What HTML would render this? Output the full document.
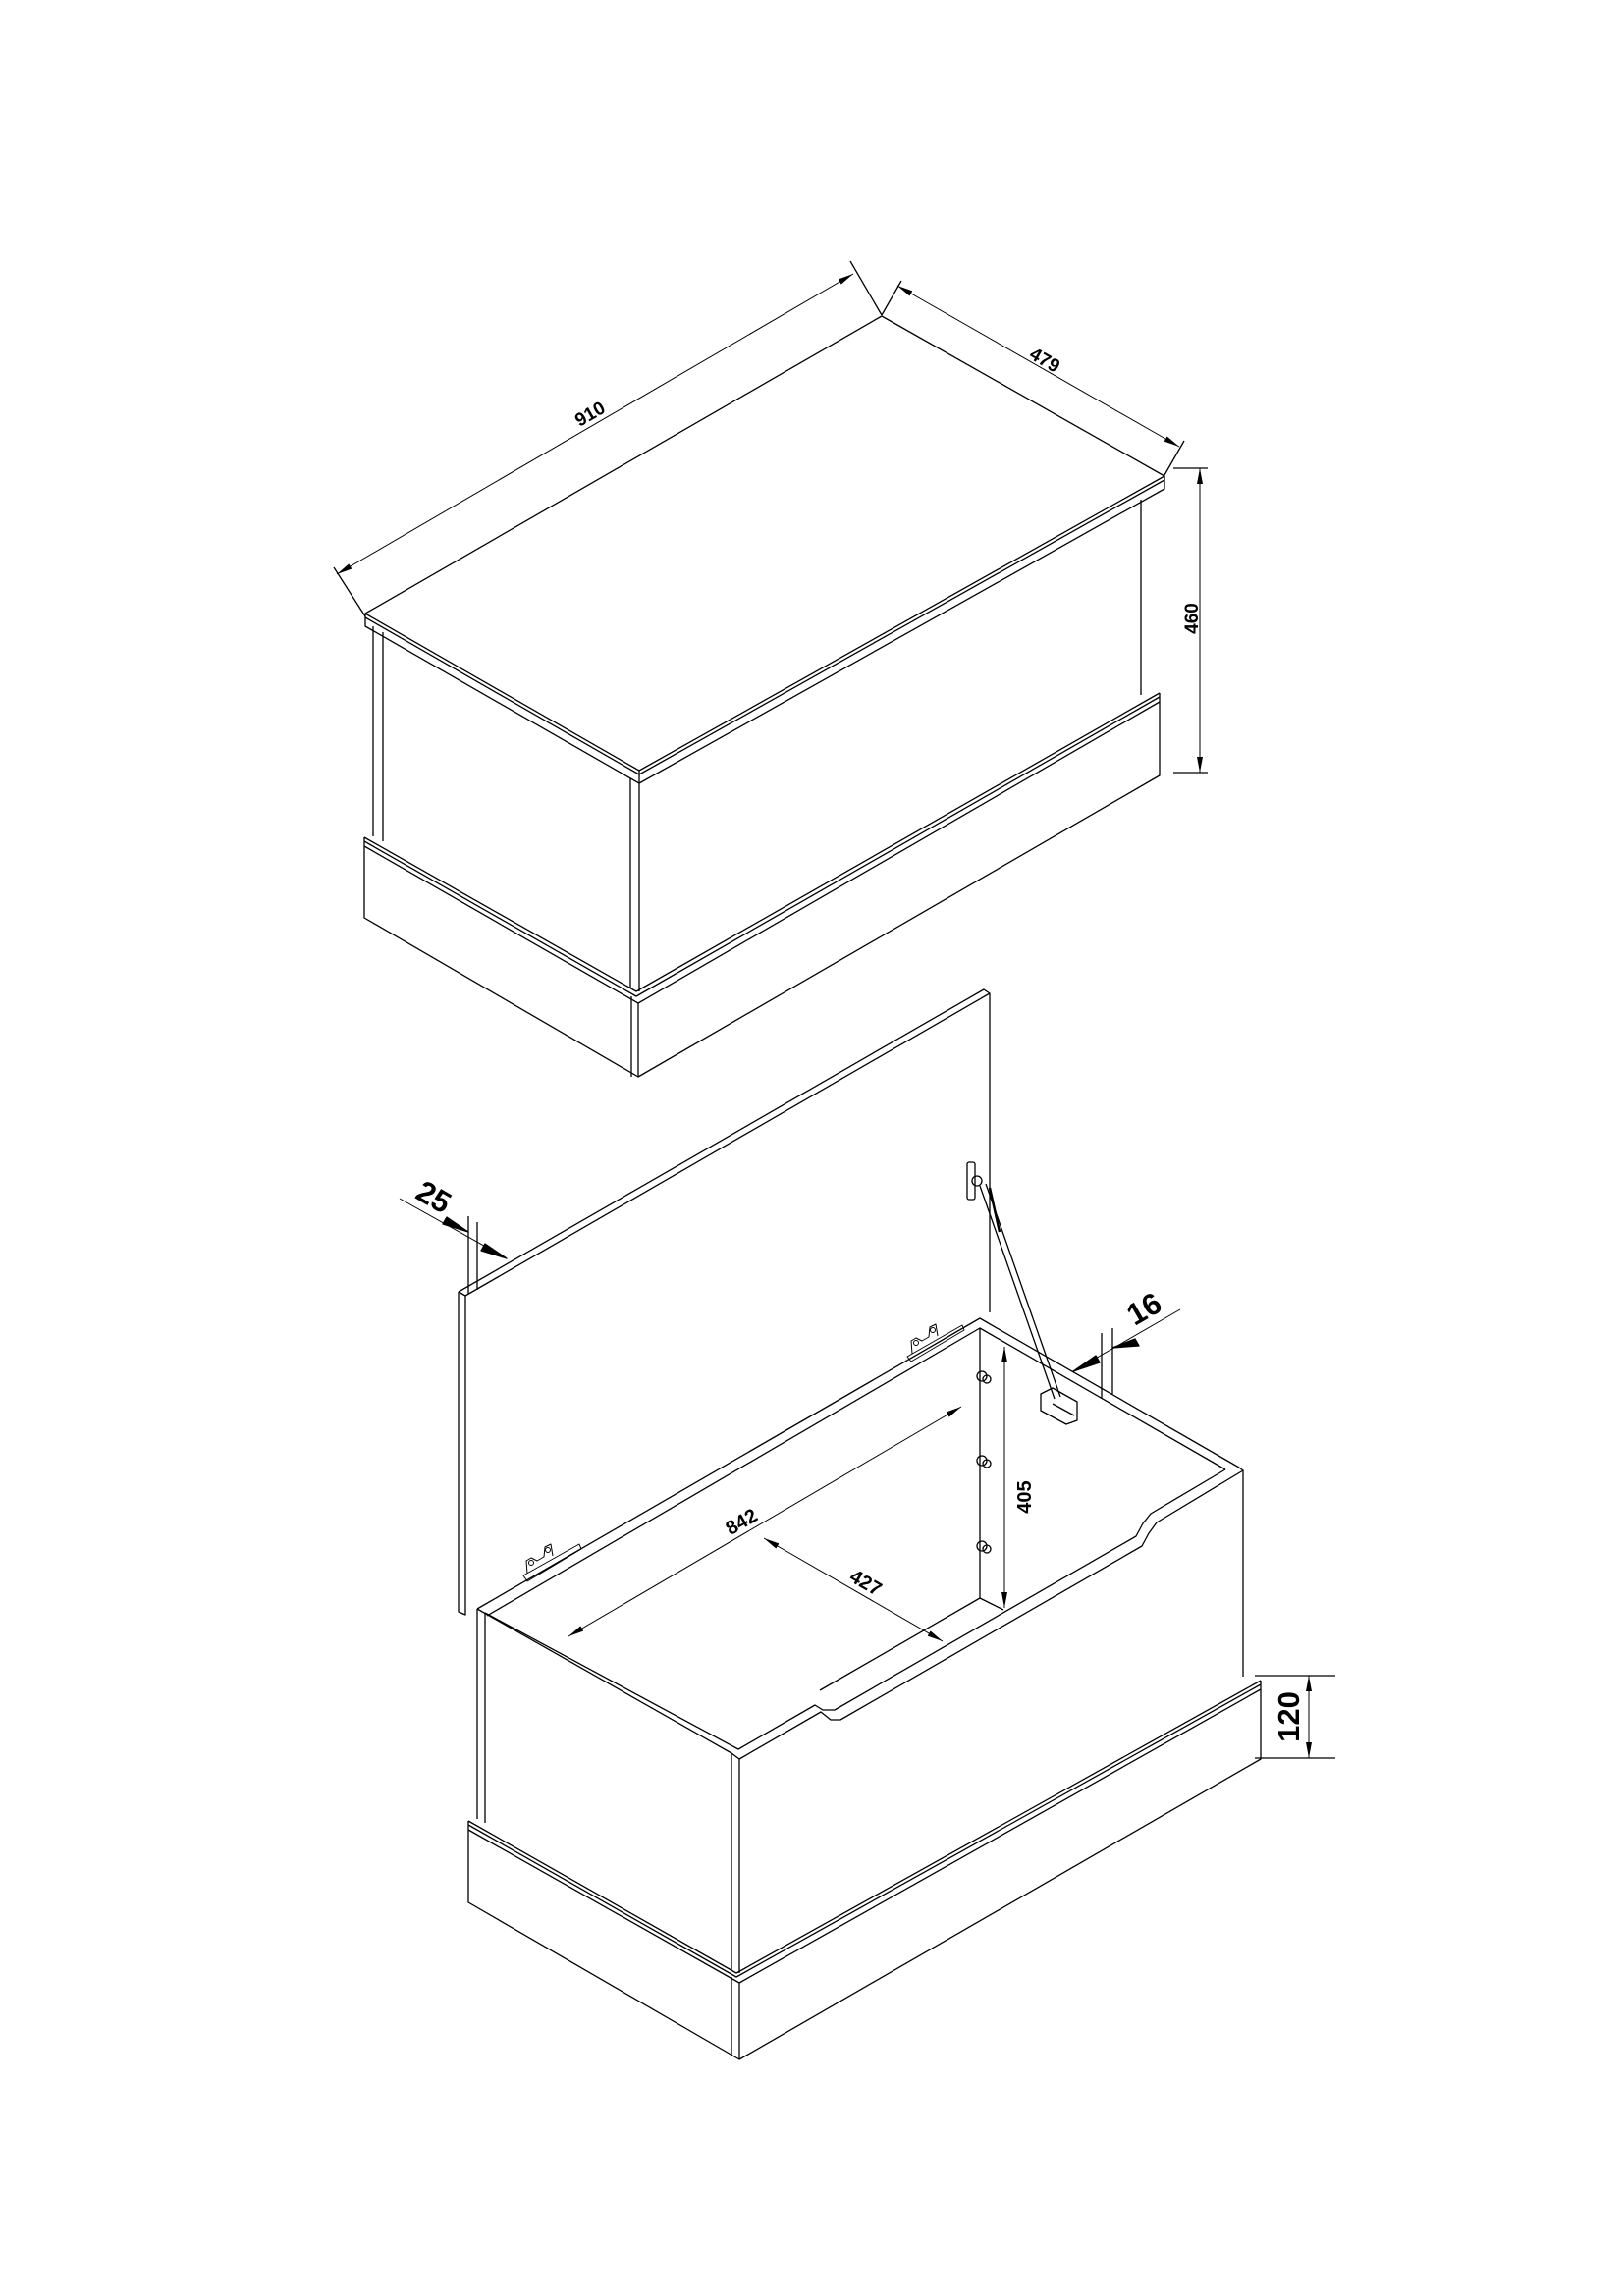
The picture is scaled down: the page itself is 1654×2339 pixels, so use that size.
<!DOCTYPE html>
<html><head><meta charset="utf-8"><style>
html,body{margin:0;padding:0;background:#fff}
svg{display:block}
text{font-family:"Liberation Sans",Arial,sans-serif;font-weight:bold;fill:#000}
</style></head><body>
<svg width="1654" height="2339" viewBox="0 0 1654 2339" xmlns="http://www.w3.org/2000/svg">
<defs>
<marker id="a" viewBox="0 0 16 6" refX="16" refY="3" markerWidth="16" markerHeight="6" markerUnits="userSpaceOnUse" orient="auto-start-reverse"><path d="M0,0 L16,3 L0,6 Z" fill="#000"/></marker>
</defs>
<g fill="none" stroke="#000" stroke-width="1.3" stroke-linejoin="round">
<!-- TOP BOX -->
<polygon points="372,625 898,322 1186,485 651,785"/>
<polyline points="372,629 651,789 1186,489"/>
<polyline points="372,625 372,638 651,798 1186,498 1186,485"/>
<line x1="651" y1="785" x2="651" y2="798"/>
<line x1="380" y1="638" x2="380" y2="852"/>
<line x1="390" y1="644" x2="390" y2="857"/>
<line x1="642" y1="793" x2="642" y2="1006"/>
<line x1="651" y1="798" x2="651" y2="1010"/>
<line x1="1162" y1="509" x2="1162" y2="708"/>
<polyline points="371,853 648,1010 1181,706"/>
<polyline points="371,857 648,1015 1181,710"/>
<polyline points="371,853 371,935 650,1097 1181,790 1181,706"/>
<polyline points="371,862 650,1022 1181,715"/>
<line x1="643" y1="1015" x2="643" y2="1097"/>
<line x1="650" y1="1022" x2="650" y2="1097"/>
<!-- top dims -->
<line x1="340" y1="578" x2="372" y2="628"/>
<line x1="866" y1="266" x2="898" y2="321"/>
<line x1="898" y1="321" x2="918" y2="286"/>
<line x1="1186" y1="484" x2="1206" y2="449"/>
<line x1="343" y1="585" x2="869" y2="279" stroke-width="1" marker-start="url(#a)" marker-end="url(#a)"/>
<line x1="914" y1="291" x2="1201" y2="455" stroke-width="1" marker-start="url(#a)" marker-end="url(#a)"/>
<line x1="1222" y1="477" x2="1222" y2="787" stroke-width="1" marker-start="url(#a)" marker-end="url(#a)"/>
<line x1="1195" y1="477" x2="1230" y2="477"/>
<line x1="1195" y1="787" x2="1230" y2="787"/>

<!-- BOTTOM BOX lid -->
<polyline points="467,1316 1002,1008 1008,1012 1008,1337"/>
<polyline points="467,1316 474,1320 1008,1012"/>
<polyline points="467,1316 467,1642 474,1645 474,1320"/>
<!-- rim -->
<polyline points="486,1639 998,1343 1262,1495"/>
<polyline points="496,1646 998,1353 1248,1497"/>
<polyline points="486,1639 745,1786 753,1792 836,1744 846,1752 856,1752 1163,1575 1170,1562 1178,1551 1266,1498 1262,1495"/>
<polyline points="494,1643 752,1782 830,1737 838,1742 850,1742 1157,1565 1164,1552 1172,1542 1248,1497"/>
<line x1="998" y1="1353" x2="998" y2="1628"/>
<polyline points="835,1722 998,1628 1022,1640"/>
<line x1="486" y1="1639" x2="486" y2="1853"/>
<line x1="494" y1="1643" x2="494" y2="1857"/>
<line x1="745" y1="1786" x2="745" y2="2007"/>
<line x1="753" y1="1792" x2="753" y2="2010"/>
<line x1="1266" y1="1498" x2="1266" y2="1708"/>
<!-- plinth -->
<polyline points="477,1855 750,2010 1284,1712"/>
<polyline points="477,1859 750,2014 1284,1716"/>
<polyline points="477,1855 477,1938 753,2098 1284,1792 1284,1712"/>
<polyline points="477,1864 753,2020 1284,1721"/>
<line x1="745" y1="2014" x2="745" y2="2094"/>
<line x1="753" y1="2020" x2="753" y2="2098"/>
<!-- dims bottom -->
<line x1="477" y1="1239" x2="477" y2="1318"/>
<line x1="486" y1="1245" x2="486" y2="1314"/>
<line x1="407" y1="1221" x2="516" y2="1282" stroke-width="1"/>
<polygon points="477,1255 455,1240 451,1247" fill="#000"/>
<polygon points="516,1282 494,1267 490,1274" fill="#000"/>
<line x1="1122" y1="1358" x2="1122" y2="1425"/>
<line x1="1133" y1="1353" x2="1133" y2="1420"/>
<line x1="1202" y1="1334" x2="1093" y2="1397" stroke-width="1"/>
<polygon points="1133,1373 1156,1364 1160,1371" fill="#000"/>
<polygon points="1093,1397 1116,1381 1120,1388" fill="#000"/>
<line x1="579" y1="1667" x2="979" y2="1433" stroke-width="1" marker-start="url(#a)" marker-end="url(#a)"/>
<line x1="778" y1="1567" x2="960" y2="1672" stroke-width="1" marker-start="url(#a)" marker-end="url(#a)"/>
<line x1="1023" y1="1372" x2="1023" y2="1638" stroke-width="1" marker-start="url(#a)" marker-end="url(#a)"/>
<line x1="1333" y1="1707" x2="1333" y2="1791" stroke-width="1" marker-start="url(#a)" marker-end="url(#a)"/>
<line x1="1278" y1="1707" x2="1360" y2="1707"/>
<line x1="1278" y1="1791" x2="1360" y2="1791"/>
<!-- strut -->
<rect x="985" y="1184" width="8" height="38" rx="2"/>
<circle cx="995" cy="1203" r="5"/>
<line x1="998" y1="1208" x2="1074" y2="1425"/>
<line x1="1004" y1="1206" x2="1080" y2="1423"/>
<line x1="1008" y1="1210" x2="1018" y2="1255" stroke-width="2.5"/>
<polygon points="1060,1420 1072,1414 1097,1428 1097,1447 1086,1451 1060,1437"/>
<line x1="1072" y1="1430" x2="1094" y2="1442"/>
<!-- pins -->
<circle cx="1000" cy="1402" r="5"/><circle cx="1005" cy="1405" r="4"/>
<circle cx="1000" cy="1488" r="5"/><circle cx="1005" cy="1491" r="4"/>
<circle cx="1000" cy="1575" r="5"/><circle cx="1005" cy="1578" r="4"/>
<!-- hinges -->
<g stroke-width="1">
<polygon points="533,1605 590,1573 592,1578 537,1611"/>
<polyline points="537,1603 536,1590 541,1587 547,1590 554,1586 555,1576 561,1573 563,1585"/>
<circle cx="541" cy="1592" r="2.5"/><circle cx="558" cy="1579" r="2.5"/>
<polygon points="924,1382 980,1350 982,1355 928,1387"/>
<polyline points="929,1379 928,1366 933,1363 939,1366 946,1362 947,1352 953,1349 955,1361"/>
<circle cx="933" cy="1368" r="2.5"/><circle cx="950" cy="1355" r="2.5"/>
</g>
</g>
<!-- labels -->
<text x="601" y="428" font-size="19" text-anchor="middle" transform="rotate(-30 601 422)">910</text>
<text x="1064" y="373" font-size="19" text-anchor="middle" transform="rotate(30 1064 367)">479</text>
<text x="1213" y="637" font-size="19" text-anchor="middle" transform="rotate(-90 1213 630)">460</text>
<text x="442" y="1230" font-size="31" text-anchor="middle" transform="rotate(30 442 1219)">25</text>
<text x="1165" y="1344" font-size="31" text-anchor="middle" transform="rotate(-30 1165 1333)">16</text>
<text x="755" y="1557" font-size="20" text-anchor="middle" font-weight="normal" transform="rotate(-30 755 1550)">842</text>
<text x="882" y="1619" font-size="20" text-anchor="middle" font-weight="normal" transform="rotate(30 882 1612)">427</text>
<text x="1043" y="1532" font-size="20" text-anchor="middle" transform="rotate(-90 1043 1525)">405</text>
<text x="1313" y="1759" font-size="31" text-anchor="middle" transform="rotate(-90 1313 1749)">120</text>
</svg>
</body></html>
